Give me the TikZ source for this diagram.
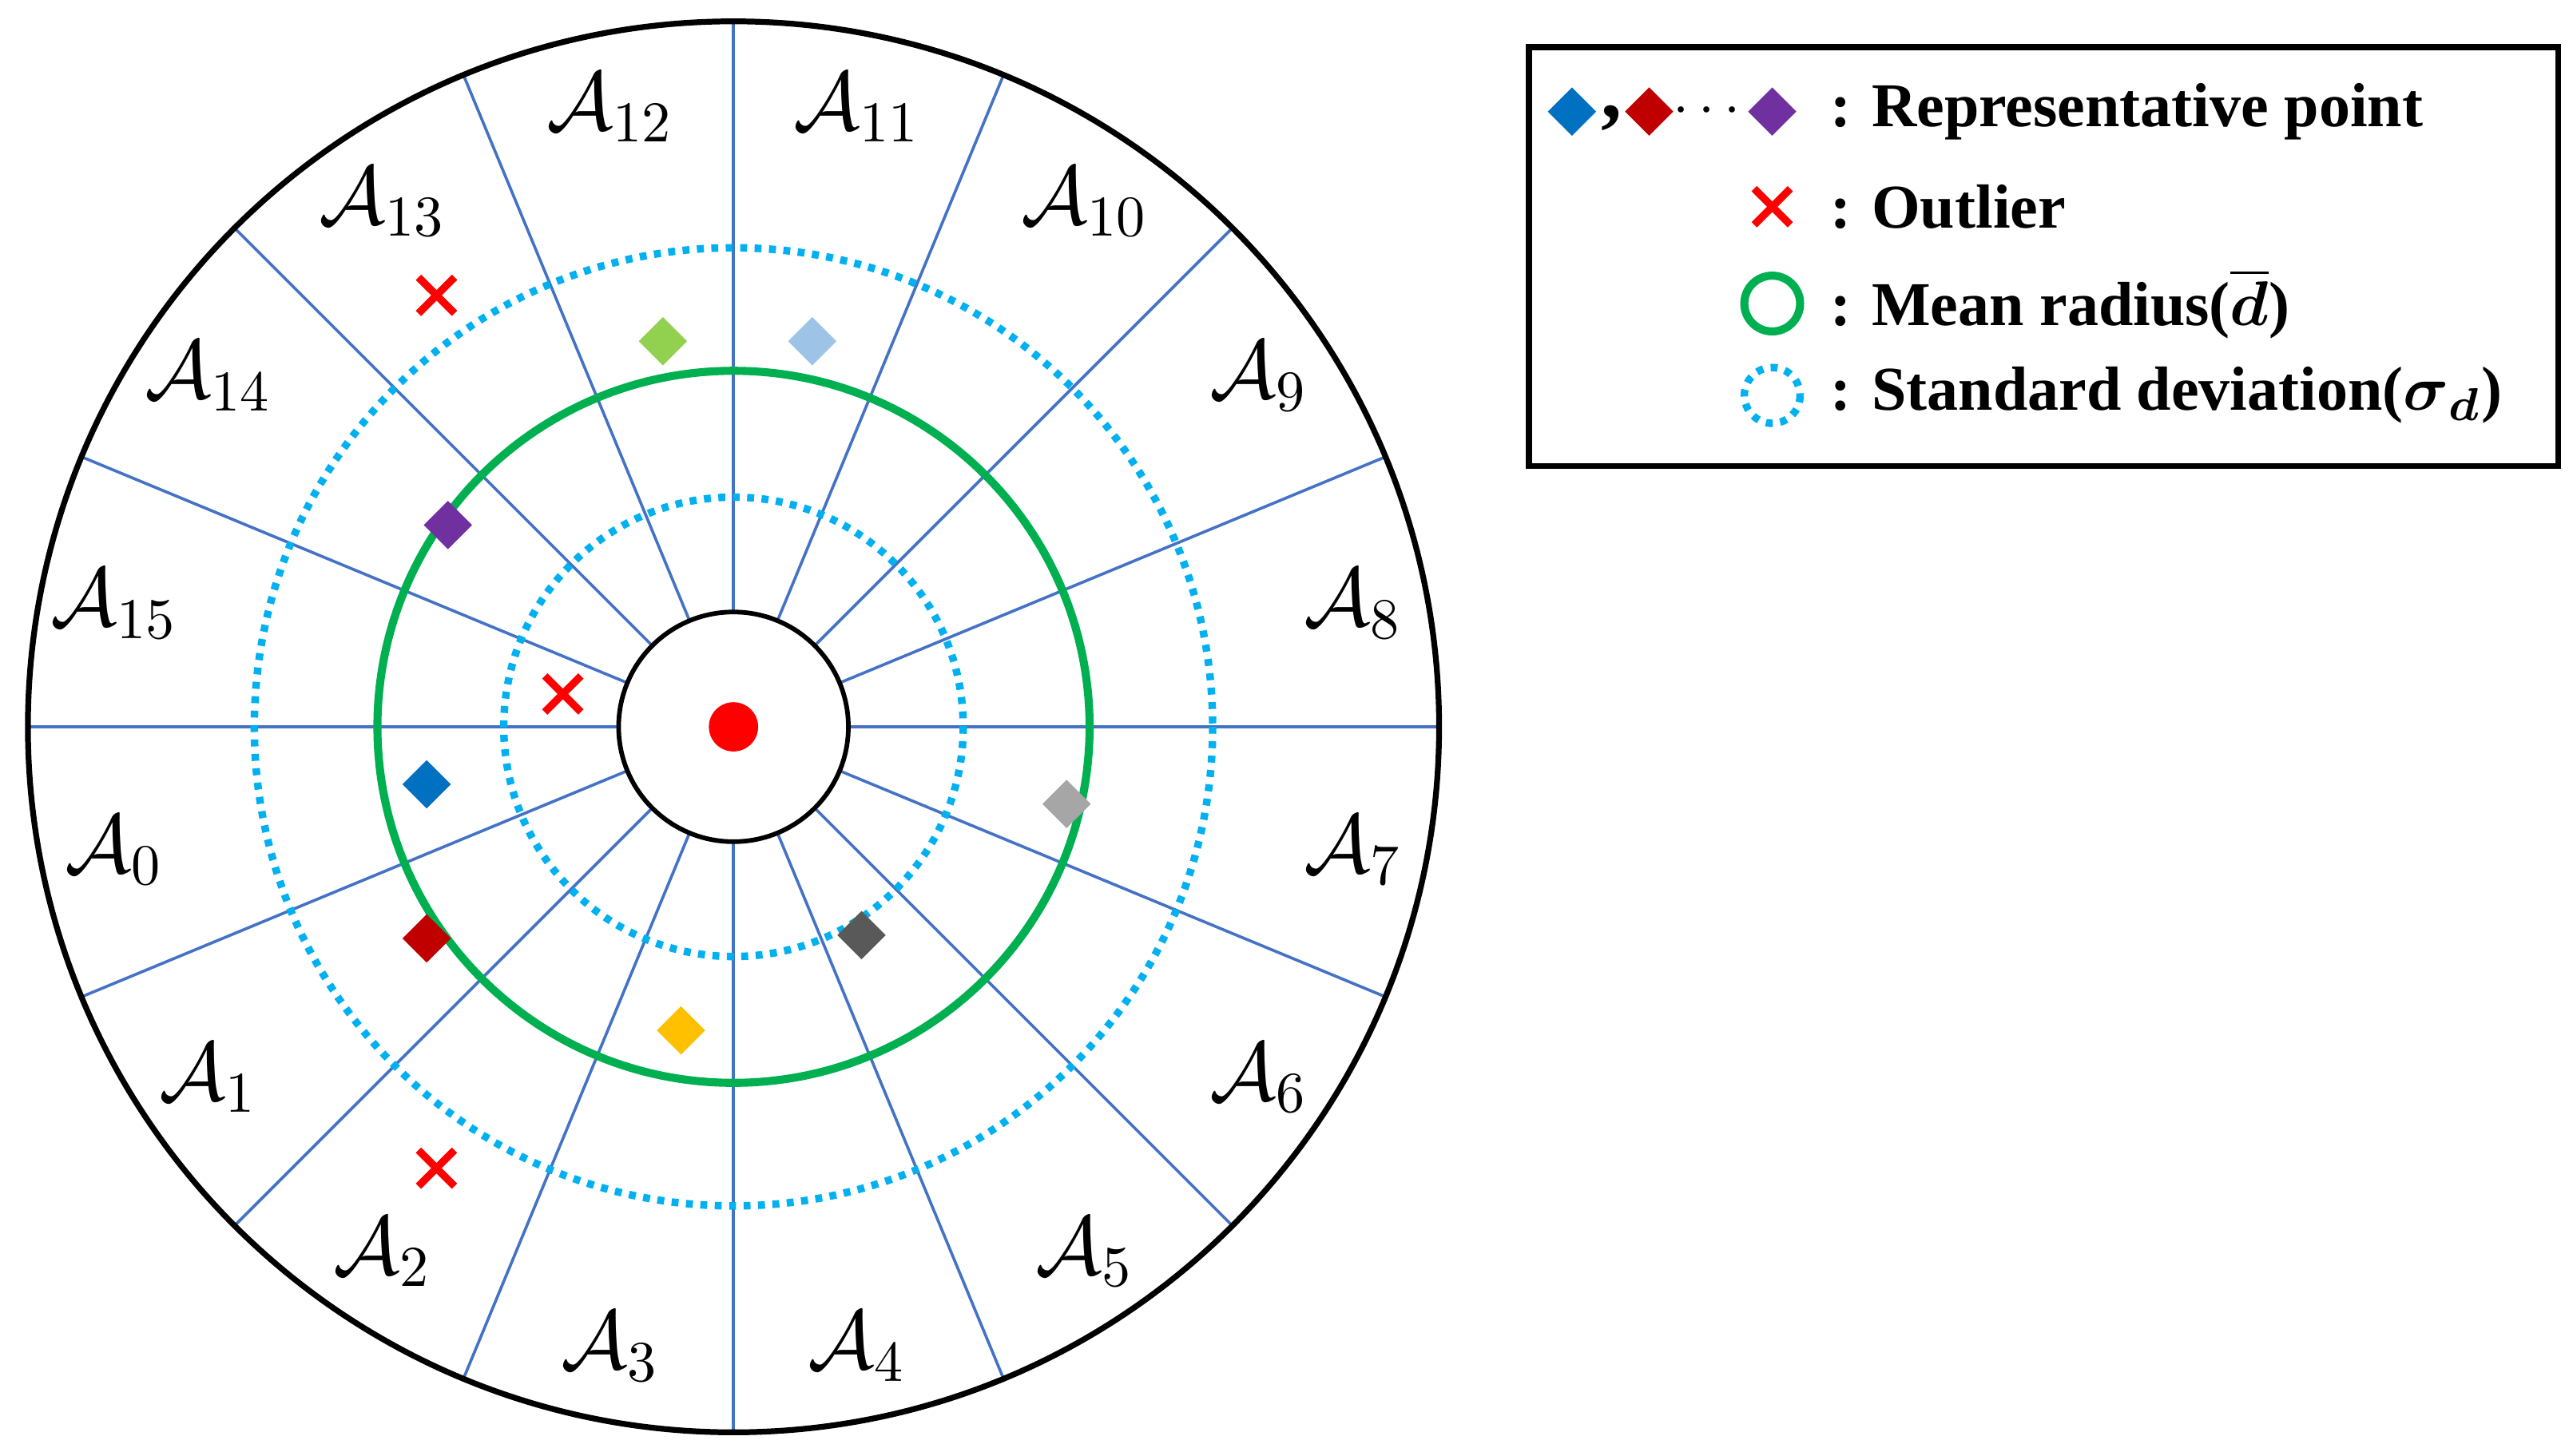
\documentclass[tikz,border=0pt]{standalone}
\usepackage{amsmath}
\usepackage{fontspec}
\setmainfont{Liberation Serif}
\usetikzlibrary{shapes.geometric,calc}
\definecolor{cblue}{HTML}{0070C0}
\definecolor{cdred}{HTML}{C00000}
\definecolor{cpurp}{HTML}{7030A0}
\definecolor{cgreen}{HTML}{92D050}
\definecolor{clblue}{HTML}{9DC3E6}
\definecolor{cgray}{HTML}{A6A6A6}
\definecolor{cdgray}{HTML}{595959}
\definecolor{corange}{HTML}{FFC000}
\definecolor{mgreen}{HTML}{00B050}
\definecolor{sky}{HTML}{00B0F0}
\definecolor{sect}{HTML}{4472C4}
\begin{document}
\begin{tikzpicture}[x=0.01cm,y=-0.01cm,
  dia/.style={diamond,fill=#1,draw=none,inner sep=0,minimum size=0.3cm},
  xm/.style={red,line width=1.3pt},
  dotc/.style={sky,line width=1.3pt,dash pattern=on 1.2pt off 1.3pt},
  lab/.style={font=\Large},
  leg/.style={font=\bfseries\fontsize{10.8}{13}\selectfont,anchor=west}]
\useasboundingbox (0,0) rectangle (1568,887);
\coordinate (c) at (447,443);
% sector lines
\foreach \k in {0,...,15}{
  \draw[sect,line width=0.5pt] ($(c)+({22.5*\k}:70 and -70)$) -- ($(c)+({22.5*\k}:430 and -430)$);
}
\draw[black,line width=1pt] (c) circle (430);
\draw[black,line width=0.8pt,fill=white] (c) circle (70);
\node[circle,fill=red,inner sep=0,minimum size=0.3cm] (o) at (c) {};
\draw[mgreen,line width=1.4pt] (c) circle (217);
\draw[dotc] (c) circle (140);
\draw[dotc] (c) circle (292);
% labels
\foreach \k in {0,...,15}{
  \node[lab] (a\k) at ($(c)+({191.25+22.5*\k}:385 and -385)$) {$\mathcal{A}_{\k}$};
}
% markers
\node[dia=cblue] (p0) at (260,478) {};
\node[dia=cpurp] (p1) at (273,320) {};
\node[dia=cgreen] (p2) at (404,208) {};
\node[dia=clblue] (p3) at (495,208) {};
\node[dia=cgray] (p4) at (650,490) {};
\node[dia=cdgray] (p5) at (525,570) {};
\node[dia=corange] (p6) at (415,628) {};
\node[dia=cdred] (p7) at (260,572) {};
\foreach \n/\x/\y in {x1/343/423,x2/266/180,x3/266/712,x4/1080/126}{
  \coordinate (\n) at (\x,\y);
  \draw[xm] ($(\n)+(-11,-11)$) -- ($(\n)+(11,11)$) ($(\n)+(-11,11)$) -- ($(\n)+(11,-11)$);
}
% legend
\node[draw=black,line width=1pt,minimum width=6.27cm,minimum height=2.55cm,anchor=north west] (box) at (930,27) {};
\node[dia=cblue] (l1) at (958,68) {};
\node[font=\bfseries\Large] (cm) at (982,72) {,};
\node[dia=cdred] (l2) at (1005,68) {};
\node[font=\bfseries] (dd) at (1043,68) {$\cdots$};
\node[dia=cpurp] (l3) at (1080,68) {};
\node[leg] (t1) at (1103,68) {: Representative point};
\node[leg] (t2) at (1103,126) {: Outlier};
\draw[mgreen,line width=1.4pt] (1080,185) circle (17);
\node[leg] (t3) at (1103,185) {: Mean radius($\overline{\boldsymbol{d}}$)};
\draw[dotc] (1080,241) circle (17);
\node[leg] (t4) at (1103,241) {: Standard deviation($\boldsymbol{\sigma}_{\boldsymbol{d}}$)};
\end{tikzpicture}
\end{document}
